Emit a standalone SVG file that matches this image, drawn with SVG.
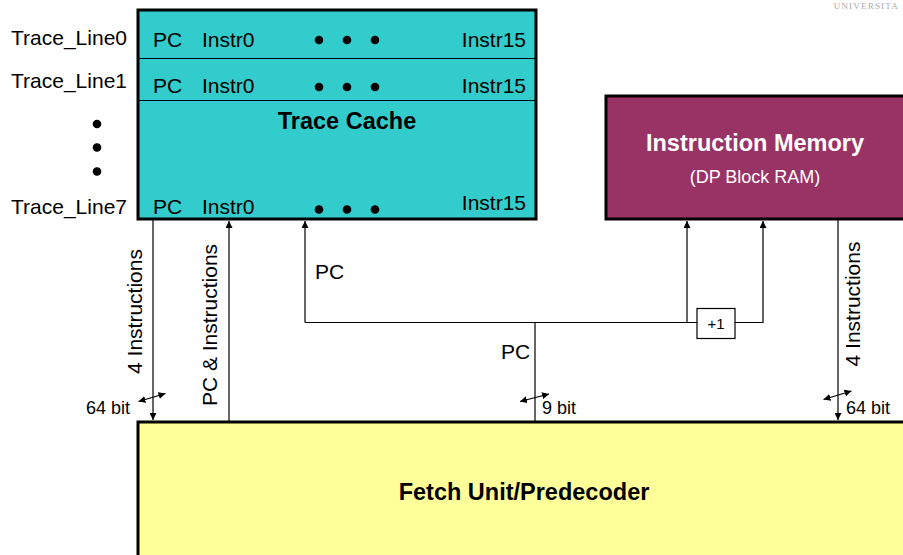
<svg xmlns="http://www.w3.org/2000/svg" width="903" height="555" viewBox="0 0 903 555">
<defs>
<style>
text{font-family:"Liberation Sans",Arial,sans-serif;fill:#000}
.r{font-size:21px}
.s{font-size:18px}
.b{font-size:23.5px;font-weight:bold}
.box{stroke:#000;stroke-width:3}
.div{stroke:#000;stroke-width:1}
.c{fill:none;stroke:#000;stroke-width:1.2}
</style>
<marker id="ah" viewBox="0 0 10 10" refX="10" refY="5" markerWidth="7" markerHeight="7" markerUnits="userSpaceOnUse" orient="auto-start-reverse">
<path d="M0,0 L10,5 L0,10 z" fill="#000"/>
</marker>
</defs>
<rect width="903" height="555" fill="#fff"/>
<text x="899" y="9" text-anchor="end" style="font-family:'Liberation Serif',serif;font-size:9px;fill:#aaa;letter-spacing:1.2px">UNIVERSITA</text>

<g id="trace-cache">
<rect class="box" x="138" y="10" width="398" height="209" fill="#33CCCC"/>
<line class="div" x1="138" y1="58.5" x2="536" y2="58.5"/>
<line class="div" x1="138" y1="100.5" x2="536" y2="100.5"/>
<text class="r" x="153" y="47">PC</text>
<text class="r" x="202" y="47">Instr0</text>
<text class="r" x="526" y="47" text-anchor="end">Instr15</text>
<circle cx="319" cy="40" r="4.3"/><circle cx="347" cy="40" r="4.3"/><circle cx="375" cy="40" r="4.3"/>
<text class="r" x="153" y="93">PC</text>
<text class="r" x="202" y="93">Instr0</text>
<text class="r" x="526" y="93" text-anchor="end">Instr15</text>
<circle cx="319" cy="87" r="4.3"/><circle cx="347" cy="87" r="4.3"/><circle cx="375" cy="87" r="4.3"/>
<text class="b" x="347" y="129" text-anchor="middle">Trace Cache</text>
<text class="r" x="153" y="214">PC</text>
<text class="r" x="202" y="214">Instr0</text>
<text class="r" x="526" y="210" text-anchor="end">Instr15</text>
<circle cx="319" cy="209.5" r="4.3"/><circle cx="347" cy="209.5" r="4.3"/><circle cx="375" cy="209.5" r="4.3"/>
</g>

<g id="trace-lines">
<text class="r" x="127" y="45" text-anchor="end">Trace_Line0</text>
<text class="r" x="127" y="88" text-anchor="end">Trace_Line1</text>
<circle cx="97" cy="124" r="4.3"/><circle cx="97" cy="147.5" r="4.3"/><circle cx="97" cy="171.5" r="4.3"/>
<text class="r" x="127" y="214" text-anchor="end">Trace_Line7</text>
</g>

<g id="instruction-memory">
<rect class="box" x="606" y="96" width="310" height="123" fill="#993366"/>
<text class="b" x="755" y="151" text-anchor="middle" style="fill:#fff">Instruction Memory</text>
<text class="s" x="755" y="183" text-anchor="middle" style="fill:#fff">(DP Block RAM)</text>
</g>

<g id="fetch-unit">
<rect class="box" x="138" y="422" width="780" height="150" fill="#FFFF99"/>
<text class="b" x="524" y="500" text-anchor="middle">Fetch Unit/Predecoder</text>
</g>

<g id="plus-one">
<rect x="697" y="308.5" width="38" height="30" fill="#fff" stroke="#000" stroke-width="1.2"/>
<text x="716" y="329" text-anchor="middle" style="font-size:15px">+1</text>
</g>

<g id="connectors">
<line class="c" x1="153" y1="220" x2="153" y2="420" marker-end="url(#ah)"/>
<line class="c" x1="229" y1="421" x2="229" y2="221" marker-end="url(#ah)"/>
<polyline class="c" points="305,322.5 305,221" marker-end="url(#ah)"/>
<line class="c" x1="305" y1="322.5" x2="697" y2="322.5"/>
<line class="c" x1="535" y1="322.5" x2="535" y2="421"/>
<line class="c" x1="687" y1="322.5" x2="687" y2="221" marker-end="url(#ah)"/>
<polyline class="c" points="735,322.5 763,322.5 763,221" marker-end="url(#ah)"/>
<line class="c" x1="838" y1="220" x2="838" y2="420" marker-end="url(#ah)"/>
<line class="c" x1="138.5" y1="401.5" x2="165.5" y2="393.5" marker-start="url(#ah)" marker-end="url(#ah)"/>
<line class="c" x1="520" y1="401.5" x2="549" y2="394" marker-start="url(#ah)" marker-end="url(#ah)"/>
<line class="c" x1="823.5" y1="399.5" x2="851.5" y2="391" marker-start="url(#ah)" marker-end="url(#ah)"/>
</g>

<g id="labels">
<text class="r" transform="translate(142,311.5) rotate(-90)" text-anchor="middle">4 Instructions</text>
<text class="r" transform="translate(216.5,325) rotate(-90)" text-anchor="middle">PC &amp; Instructions</text>
<text class="r" transform="translate(860,304) rotate(-90)" text-anchor="middle">4 Instructions</text>
<text class="r" x="315" y="279">PC</text>
<text class="r" x="501" y="359">PC</text>
<text class="s" x="130" y="414" text-anchor="end">64 bit</text>
<text class="s" x="542" y="414">9 bit</text>
<text class="s" x="846" y="414">64 bit</text>
</g>
</svg>
